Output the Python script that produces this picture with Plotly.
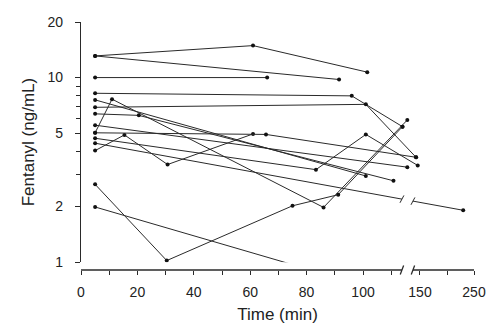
import math
import plotly.graph_objects as go

# ---- data (time in min, fentanyl ng/mL) ----
t01 = [5, 61, 101.5];            c01 = [13.1, 14.9, 10.7]
t02 = [5, 91.5];                 c02 = [13.1, 9.76]
t03 = [5, 66];                   c03 = [10.0, 10.0]
t04 = [5, 96, 114];              c04 = [8.22, 7.96, 5.42]
t05 = [5, 101, 118.8];           c05 = [6.9, 7.16, 3.70]
t06 = [5, 101];                  c06 = [7.57, 2.93]
t07 = [5, 11, 86, 115.7];        c07 = [5.02, 7.64, 1.98, 5.89]
t08 = [5, 20.5, 110.8];          c08 = [6.36, 6.24, 2.76]
t09 = [5, 115.7];                c09 = [5.52, 3.27]
t10 = [5, 15.4, 30.7, 61];       c10 = [4.02, 4.89, 3.38, 4.95]
t11 = [5, 65.6, 118.8];          c11 = [5.02, 4.92, 3.70]
t12 = [5, 83.3, 101, 119.4];     c12 = [4.69, 3.17, 4.92, 3.34]
t13 = [5, 30.4, 75, 91.2, 114];  c13 = [2.64, 1.02, 2.02, 2.32, 5.42]
t14 = [5, 75];                   c14 = [1.99, 0.97]
t15 = [5, 230];                  c15 = [4.41, 1.91]

x_ticks = [0, 10, 20, 30, 40, 50, 60, 70, 80, 90, 100, 110, 150, 200, 250]
x_labels = ["0", "", "20", "", "40", "", "60", "", "80", "", "100", "", "150", "", "250"]
y_major = [1, 2, 5, 10, 20]
y_minor = [3, 4, 6, 7, 8, 9]

# broken time axis: linear up to ~120 min, compressed from 150 min on
def u(t):
    return t if t <= 125 else 120.2 + 0.1915 * (t - 150)

BREAK_A, BREAK_B = 113.8, 117.7
U_MAX = u(250)

fig = go.Figure()
series = [(t01, c01), (t02, c02), (t03, c03), (t04, c04), (t05, c05), (t06, c06),
          (t07, c07), (t08, c08), (t09, c09), (t10, c10), (t11, c11), (t12, c12),
          (t13, c13), (t14, c14), (t15, c15)]

LINE = "#2a2a2a"
for ts, cs in series:
    us = [u(t) for t in ts]
    xs, ys = [], []
    for i in range(len(us)):
        if i > 0 and ts[i - 1] < 130 and ts[i] >= 150:
            # interrupt the segment at the axis break
            u0, u1 = us[i - 1], us[i]
            l0, l1 = math.log10(cs[i - 1]), math.log10(cs[i])
            for ub in (BREAK_A, None, BREAK_B):
                if ub is None:
                    xs.append(None); ys.append(None)
                else:
                    f = (ub - u0) / (u1 - u0)
                    yb = 10 ** (l0 + f * (l1 - l0))
                    xs.append(ub); ys.append(yb)
                    fig.add_shape(type="line", xref="x", yref="y",
                                  x0=ub - 0.7, x1=ub + 0.7,
                                  y0=yb * 0.955, y1=yb / 0.955,
                                  line=dict(color=LINE, width=1))
        xs.append(us[i]); ys.append(cs[i])
    fig.add_trace(go.Scatter(x=xs, y=ys, mode="lines", line=dict(color=LINE, width=1),
                             hoverinfo="skip", showlegend=False))
    fig.add_trace(go.Scatter(x=us, y=cs, mode="markers",
                             marker=dict(color="#111", size=4), showlegend=False))

# x-axis line with break
for a, b in [(0, BREAK_A), (BREAK_B, U_MAX)]:
    fig.add_shape(type="line", xref="x", yref="paper", x0=a, x1=b, y0=0, y1=0,
                  line=dict(color=LINE, width=1.3))
for xb in (BREAK_A, BREAK_B):
    fig.add_shape(type="line", xref="x", yref="paper", x0=xb - 0.6, x1=xb + 0.6,
                  y0=-0.018, y1=0.018, line=dict(color=LINE, width=1.3))

font = "Liberation Sans, Arial, Helvetica, sans-serif"
fig.update_layout(
    width=500, height=333,
    margin=dict(l=81, r=26, t=22, b=58),
    paper_bgcolor="white", plot_bgcolor="white",
    font=dict(family=font, size=14, color="#222"),
    xaxis=dict(range=[0, U_MAX], anchor="free", position=0, showline=False,
               showgrid=False, zeroline=False,
               tickmode="array", tickvals=[u(t) for t in x_ticks], ticktext=x_labels,
               ticks="outside", ticklen=4, tickwidth=1, tickcolor=LINE,
               ticklabelstandoff=5,
               title=dict(text="Time (min)", standoff=9)),
    yaxis=dict(type="log", range=[0, math.log10(20)], domain=[8 / 253, 1],
               anchor="x", showline=True, linecolor=LINE, linewidth=1.3,
               showgrid=False, zeroline=False,
               tickmode="array", tickvals=y_major, ticktext=[str(v) for v in y_major],
               ticks="outside", ticklen=5, tickwidth=1, tickcolor=LINE,
               ticklabelstandoff=9,
               minor=dict(tickvals=y_minor, ticks="outside", ticklen=4, tickcolor=LINE),
               title=dict(text="Fentanyl (ng/mL)", standoff=8)),
)

fig.write_html("out.html")
